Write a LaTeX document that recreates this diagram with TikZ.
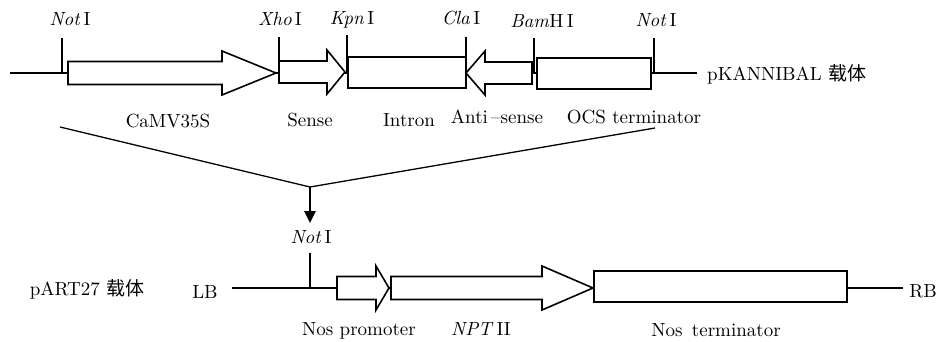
\documentclass[tikz,border=0pt]{standalone}
\usepackage{fontspec}
\setmainfont{lmroman10-regular.otf}[ItalicFont=lmroman10-italic.otf,BoldFont=lmroman10-bold.otf]
\newfontfamily\cjk{Noto Sans CJK SC}
\usetikzlibrary{arrows.meta}
\newcommand\gerarrow[6]{% name, x0, x1, tip, yc, bodyhalf
  \draw[part] (#2,#5-#6) -- (#3,#5-#6) -- (#3,#5-22) -- (#4,#5) -- (#3,#5+22) -- (#3,#5+#6) -- (#2,#5+#6) -- cycle;
  \coordinate (#1) at ({(#2+#4)/2},#5);}
\begin{document}
\begin{tikzpicture}[x=1pt,y=-1pt,
  font=\fontsize{19}{21}\selectfont,
  part/.style={draw,line width=1.6pt,fill=white,line join=miter},
  dna/.style={line width=1.5pt},
  tick/.style={line width=1.5pt},
  lbl/.style={inner sep=0pt,anchor=base}]
\useasboundingbox (0,0) rectangle (941,342);
% ---------- top construct ----------
\coordinate (tL) at (10,73);
\coordinate (tR) at (697,73);
\draw[dna] (tL) -- (tR);
\gerarrow{camv}{68}{222}{276}{73}{11.5}
\gerarrow{sense}{279}{327}{345}{72}{11}
\draw[part] (348,57) rectangle (466,88);
\gerarrow{anti}{532}{485}{466}{73}{11}
\draw[part] (537,58) rectangle (651,89);
% ticks
\draw[tick] (62,38) -- (62,73);
\draw[tick] (279,37) -- (279,73);
\draw[tick] (347,35) -- (347,73);
\draw[tick] (466,37) -- (466,57);
\draw[tick] (534,38) -- (534,73);
\draw[tick] (654,38) -- (654,73);
% enzyme labels
\node[lbl] (n1) at (70,26) {\textit{Not}\,I};
\node[lbl] (n2) at (280,26) {\textit{Xho}\,I};
\node[lbl] (n3) at (352,25) {\textit{Kpn}\,I};
\node[lbl] (n4) at (461,25) {\textit{Cla}\,I};
\node[lbl] (n5) at (542,28) {\textit{Bam}H\,I};
\node[lbl] (n6) at (656,27) {\textit{Not}\,I};
% part labels
\node[lbl] (l1) at (168,127) {CaMV35S};
\node[lbl] (l2) at (310,126) {Sense};
\node[lbl] (l3) at (409,126) {Intron};
\node[lbl] (l4) at (497,124) {Anti\,--sense};
\node[lbl] (l5) at (634,124) {OCS terminator};
\node[lbl,anchor=base west] (vec1) at (707,81) {pKANNIBAL {\cjk 载体}};
% ---------- funnel ----------
\coordinate (vl) at (60,127);
\coordinate (vr) at (655,128);
\coordinate (vm) at (310,187);
\coordinate (va) at (310,223);
\draw[line width=1.3pt] (vl) -- (vm) -- (vr);
\draw[line width=2.6pt,-{Triangle[length=12pt,width=11pt]}] (vm) -- (va);
% ---------- bottom construct ----------
\coordinate (bL) at (232,288);
\coordinate (bR) at (903,288);
\draw[dna] (bL) -- (bR);
\gerarrow{nos}{337}{376}{389}{288}{11.5}
\gerarrow{npt}{391}{542}{593}{288}{11.5}
\draw[part] (594,271) rectangle (847,302);
\draw[tick] (310,253) -- (310,288);
\node[lbl] (n7) at (311,243) {\textit{Not}\,I};
\node[lbl] (lb) at (205,298) {LB};
\node[lbl] (rb) at (923,297) {RB};
\node[lbl] (vec2) at (87,295) {pART27 {\cjk 载体}};
\node[lbl] (p1) at (359,335) {Nos promoter};
\node[lbl] (p2) at (481,335) {\textit{NPT}\,II};
\node[lbl] (p3) at (716,336) {Nos~\,terminator};
\end{tikzpicture}
\end{document}
